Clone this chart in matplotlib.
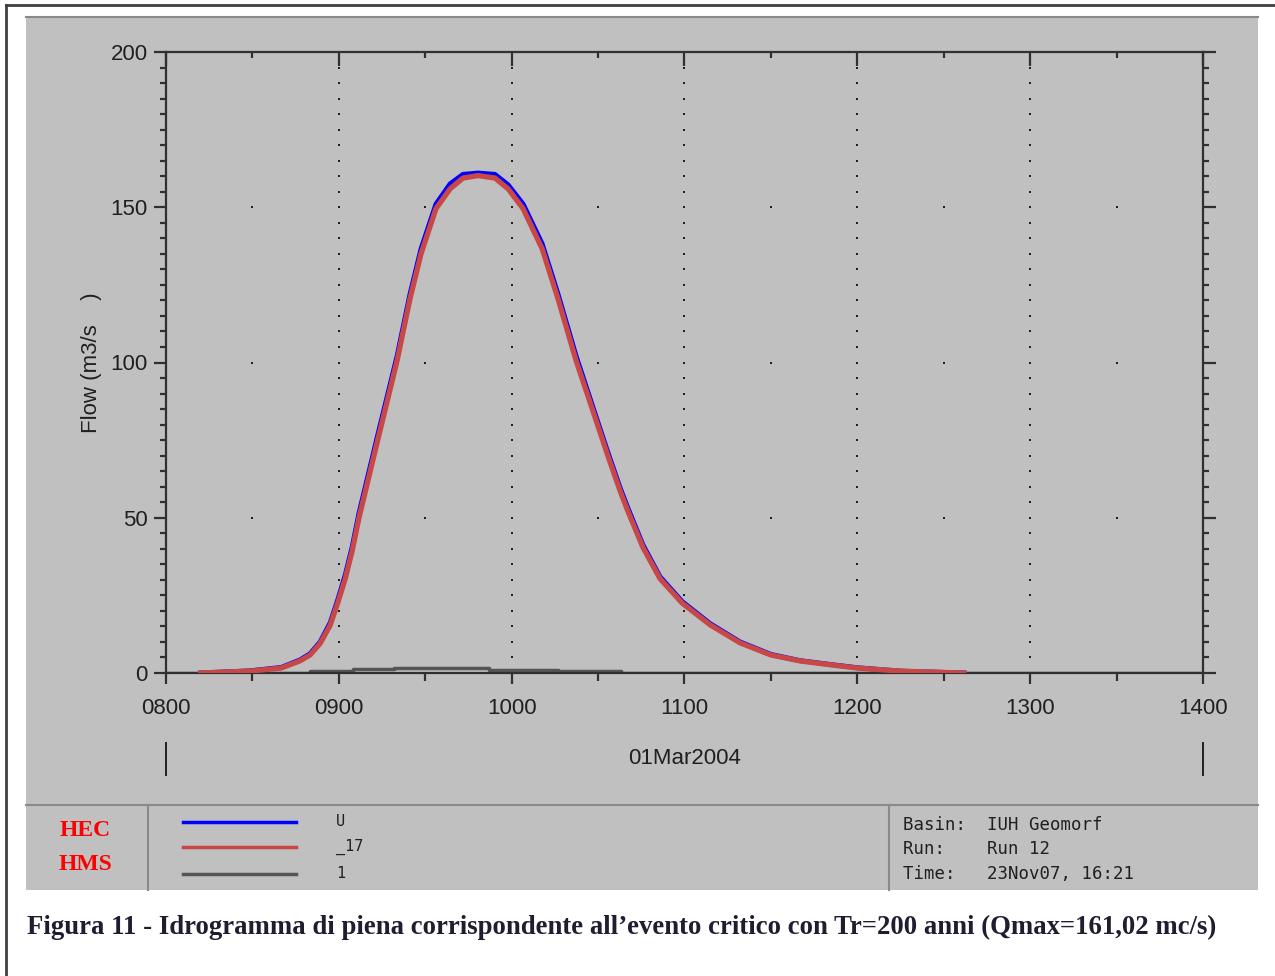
import numpy as np
import matplotlib
matplotlib.use("Agg")
import matplotlib.pyplot as plt
from matplotlib.lines import Line2D
from matplotlib.patches import Rectangle

# minutes after 08:00 on 01Mar2004
t_flow = [12, 29, 40, 46.5, 50, 53.5, 57, 59.7, 62.2, 64.6, 67, 73.6, 80.2,
          84.7, 88.5, 93.7, 98.6, 103.1, 108.3, 114.2, 118.8, 124, 130.6, 136.1,
          142.4, 148, 153.2, 157.7, 160.4, 165.6, 171.5, 179.2, 188.9, 199.3,
          210, 220, 231, 240, 255, 277]
q_u = [0, 0.7, 1.8, 4.2, 6.2, 10, 16.2, 23.8, 31.5, 40.5, 51.5, 77, 102,
       122, 136.5, 151, 157.5, 160.6, 161.02, 160.6, 157.2, 151, 138.2, 122,
       102, 86.2, 71.6, 59.5, 53, 41.2, 31, 23, 15.9, 10, 6, 4, 2.7, 1.7, 0.6, 0]
q_17 = [0, 0.6, 1.6, 3.9, 5.8, 9.5, 15.4, 22.8, 30.3, 39.2, 50, 75.4, 100.5,
        120.5, 134.9, 149.5, 155.9, 159.4, 160.2, 159.4, 155.9, 149.5, 136.6,
        120.5, 100.5, 85, 70.5, 58.5, 52, 40.4, 30.4, 22.5, 15.5, 9.7, 5.8, 3.9,
        2.6, 1.6, 0.6, 0]
t_one = [0, 50, 65, 79, 112, 136, 158, 360]
q_one = [0, 0.7, 1.3, 1.7, 1.1, 0.6, 0, 0]

hour_labels = ["0800", "0900", "1000", "1100", "1200", "1300", "1400"]
series_names = ["U", "_17", "1"]
series_colors = ["#0000ff", "#c84848", "#555555"]
info_lines = ["Basin:  IUH Geomorf", "Run:    Run 12", "Time:   23Nov07, 16:21"]
caption = ("Figura 11 - Idrogramma di piena corrispondente all\u2019evento critico "
           "con Tr=200 anni (Qmax=161,02 mc/s)")

W, H = 1275, 976
fig = plt.figure(figsize=(W / 100, H / 100), dpi=100)
fx = lambda px: px / W
fy = lambda py: 1 - py / H

# outer border and grey panel
fig.add_artist(Line2D([fx(6), fx(6)], [0, fy(5)], color="#404040", lw=2))
fig.add_artist(Line2D([fx(6), 1], [fy(5), fy(5)], color="#404040", lw=2))
fig.add_artist(Rectangle((fx(26), fy(890)), fx(1258) - fx(26), fy(16) - fy(890),
                         facecolor="#c0c0c0", edgecolor="none", zorder=0))
fig.add_artist(Line2D([fx(26), fx(1258)], [fy(17), fy(17)], color="#8a8a8a", lw=1.5))
fig.add_artist(Line2D([fx(26), fx(1258)], [fy(805), fy(805)], color="#8a8a8a", lw=1.5))
for px in (148, 889):
    fig.add_artist(Line2D([fx(px), fx(px)], [fy(890), fy(805)], color="#8a8a8a", lw=1.5))

ax = fig.add_axes([fx(166), fy(673), fx(1203) - fx(166), fy(52) - fy(673)])
ax.set_facecolor("none")
ax.set_xlim(0, 360)
ax.set_ylim(0, 200)

# dotted grid: dots at major x / minor y and minor x / major y
gx, gy = [], []
for xm in range(60, 360, 60):
    for ym in range(5, 200, 5):
        gx.append(xm); gy.append(ym)
for xm in range(30, 360, 60):
    for ym in (50, 100, 150):
        gx.append(xm); gy.append(ym)
ax.plot(gx, gy, ls="none", marker="s", ms=1.6, mew=0, color="#202020", zorder=1)

ax.plot(t_one, q_one, drawstyle="steps-post", color=series_colors[2], lw=2.5, zorder=2)
ax.plot(t_flow, q_u, color=series_colors[0], lw=3.5, zorder=3)
ax.plot(t_flow, q_17, color=series_colors[1], lw=3.8, zorder=4)

for s in ax.spines.values():
    s.set_color("#303030")
    s.set_linewidth(1.6)

ax.set_xticks(range(0, 361, 60))
ax.set_xticklabels(hour_labels)
ax.set_xticks(range(30, 360, 60), minor=True)
ax.set_yticks(range(0, 201, 50))
ax.set_yticks(range(0, 201, 5), minor=True)
ax.tick_params(axis="x", which="major", direction="out", length=8, width=1.6,
               color="#303030", labelsize=16, pad=10, labelcolor="#202020")
ax.tick_params(axis="x", which="minor", direction="out", length=6, width=1.6, color="#303030")
ax.tick_params(axis="y", which="major", direction="out", length=9, width=1.6,
               color="#303030", labelsize=16, pad=4, right=True, labelcolor="#202020")
ax.tick_params(axis="y", which="minor", direction="out", length=4.5, width=1.6,
               color="#303030", right=True)

top = ax.secondary_xaxis("top")
top.set_xticks(range(0, 361, 60))
top.set_xticks(range(30, 360, 60), minor=True)
top.tick_params(which="major", direction="in", length=10, width=1.6, color="#303030",
                labeltop=False)
top.tick_params(which="minor", direction="in", length=4.5, width=1.6, color="#303030")
top.spines["top"].set_visible(False)

for lab in ax.get_xticklabels() + ax.get_yticklabels():
    lab.set_family("Liberation Sans")

ax.set_ylabel("Flow (m3/s    )", fontsize=16, family="Liberation Sans",
              color="#202020", labelpad=6)

xt = ax.get_xaxis_transform()
for xm in (0, 360):
    ax.plot([xm, xm], [-0.113, -0.164], transform=xt, clip_on=False,
            color="#202020", lw=1.4)
ax.text(180, -0.138, "01Mar2004", transform=xt, ha="center", va="center",
        fontsize=16, family="Liberation Sans", color="#202020")

# footer: logo, legend, run info
fig.text(fx(85), fy(830), "HEC", color="red", fontsize=17, weight="bold",
         family="Liberation Serif", ha="center", va="center")
fig.text(fx(85), fy(864), "HMS", color="red", fontsize=17, weight="bold",
         family="Liberation Serif", ha="center", va="center")
for i, (name, col) in enumerate(zip(series_names, series_colors)):
    yy = fy([822, 847, 874][i])
    fig.add_artist(Line2D([fx(183), fx(296)], [yy, yy], color=col, lw=2.5))
    fig.text(fx(336), yy, name, fontsize=11, family="DejaVu Sans Mono",
             va="center", color="#202020")
for i, line in enumerate(info_lines):
    fig.text(fx(903), fy([825, 849, 874][i]), line, fontsize=12.5,
             family="DejaVu Sans Mono", va="center", color="#202020")

fig.text(fx(27), fy(927), caption, fontsize=19.3, weight="bold",
         family="Liberation Serif", va="center", ha="left", color="#1e1e30")

fig.savefig("out.png", dpi=100)
